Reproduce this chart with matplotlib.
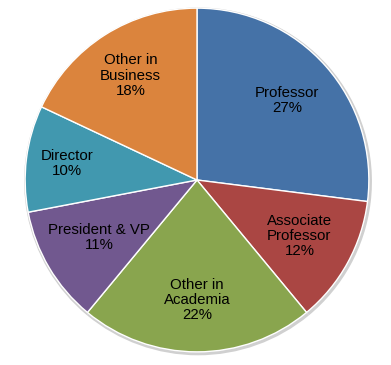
import matplotlib
matplotlib.use("Agg")
import matplotlib.pyplot as plt
import numpy as np

labels = ["Professor", "Associate\nProfessor", "Other in\nAcademia", "President & VP", "Director", "Other in\nBusiness"]
values = [27, 12, 22, 11, 10, 18]
colors = ["#4572A7", "#AA4643", "#89A54E", "#71588F", "#4198AF", "#DB843D"]
label_r = [0.70, 0.68, 0.70, 0.66, 0.76, 0.72]

plt.rcParams['font.family'] = ['Liberation Sans', 'DejaVu Sans']
fig = plt.figure(figsize=(3.91, 3.65), dpi=100)
ax = fig.add_axes([(197-171)/391, (365-180-171)/365, 342/391, 342/365])

# subtle shadow
ax.pie(values, startangle=90, counterclock=False, radius=1.012,
       colors=["#d0d0d0"]*len(values), center=(0.006, -0.008),
       wedgeprops=dict(linewidth=0))
wedges, _ = ax.pie(values, startangle=90, counterclock=False, colors=colors,
                   wedgeprops=dict(edgecolor="white", linewidth=1.0))
for w, lab, v, r in zip(wedges, labels, values, label_r):
    ang = np.deg2rad((w.theta1 + w.theta2) / 2)
    ax.text(r*np.cos(ang), r*np.sin(ang), f"{lab}\n{v}%", ha="center", va="center",
            fontsize=10.8, color="#000000", linespacing=1.1)
ax.set_xlim(-0.995, 0.995)
ax.set_ylim(-0.995, 0.995)
ax.set_aspect("equal")
ax.axis("off")
fig.savefig("out.png", dpi=100)
